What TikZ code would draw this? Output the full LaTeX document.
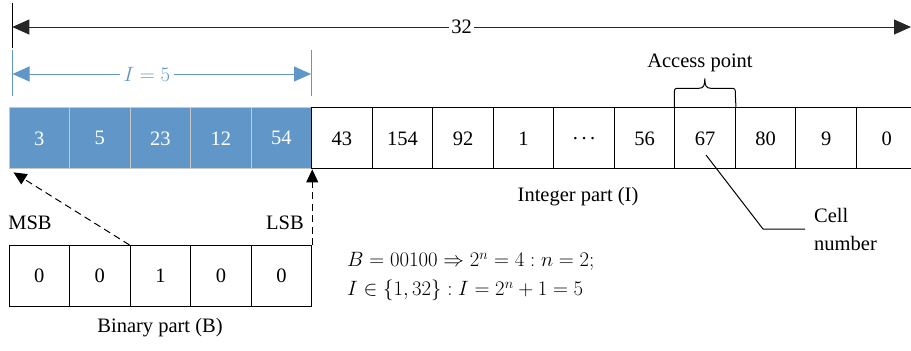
\documentclass[tikz,border=0pt]{standalone}
\usepackage{fontspec}
\setmainfont{Liberation Serif}
\usetikzlibrary{arrows.meta}
\definecolor{cellblue}{RGB}{96,151,200}
\definecolor{cellline}{RGB}{200,200,200}
\newcommand{\lowdots}{.\hspace{3.5pt}.\hspace{3.5pt}.}
\begin{document}
\begin{tikzpicture}[x=1pt,y=-1pt,
  font=\fontsize{20.5}{26}\selectfont,
  cell/.style={draw=black, line width=1.1pt, minimum width=60.53pt,
    minimum height=61pt, inner sep=0pt, anchor=north west},
  bluecell/.style={cell, fill=cellblue, draw=cellline, text=white},
  dimline/.style={line width=1pt,
    {Triangle[length=17pt,width=15pt]}-{Triangle[length=17pt,width=15pt]}},
  ptr/.style={line width=1pt, dash pattern=on 7pt off 4.5pt,
    -{Triangle[length=13pt,width=12pt]}},
  thin/.style={line width=1pt}]
\useasboundingbox (0,0) rectangle (911,351);

% data row: binary-derived offset (blue) followed by integer part
\foreach \v [count=\i] in {3,5,23,12,54}
  \node[bluecell] (c\i) at ({8.5+(\i-1)*60.53},107.3) {\v};
\foreach \v [count=\i from 6] in {43,154,92,1,{\lowdots},56,67,80,9,0}
  \node[cell] (c\i) at ({8.5+(\i-1)*60.53},107.3) {\v};

% binary part
\foreach \v [count=\i] in {0,0,1,0,0}
  \node[cell] (b\i) at ({8.5+(\i-1)*60.53},245) {\v};

% overall length
\coordinate (t0) at (12.3,27);
\coordinate (t1) at (911,27);
\coordinate (tk0) at (12.3,3);
\coordinate (tk1) at (12.3,48);
\draw[thin] (tk0) -- (tk1);
\draw[dimline, black!85] (t0) -- node[fill=white, inner xsep=2pt, text=black] (n32) {32} (t1);

% offset I
\begin{scope}[cellblue]
\coordinate (ia0) at (12.5,50);
\coordinate (ib0) at (12.5,96);
\coordinate (ia1) at (311,50);
\coordinate (ib1) at (311,96);
\coordinate (i0) at (12.5,74);
\coordinate (i1) at (311,74);
\draw[thin] (ia0) -- (ib0);
\draw[thin] (ia1) -- (ib1);
\draw[dimline] (i0) -- node[pos=0.45, fill=white, inner xsep=4pt] (nI) {$I = 5$} (i1);
\end{scope}

% pointers from the binary part
\coordinate (msbtip) at ([xshift=5pt,yshift=-3pt]c1.south west);
\draw[ptr] (b3.north west) -- (msbtip);
\draw[ptr] (b5.north east) -- (c5.south east);
\node (msb) at (30,223) {MSB};
\node (lsb) at (285,223) {LSB};

% access point brace
\draw[thin] (c12.north west) -- ++(0,-13) .. controls ++(0,-6) .. ++(5.5,-6)
  -- ++(19,0) .. controls ++(5,0) and ++(0,7) .. ++(6,-10)
  .. controls ++(0,7) and ++(-5,0) .. ++(6,10) -- ++(19,0)
  .. controls ++(5.5,0) .. ++(5.5,6) -- (c12.north east);
\node (ap) at (700,63) {Access point};

% cell number callout
\coordinate (cn0) at (706,155);
\coordinate (cn1) at (763,229);
\node[align=left, anchor=west, inner sep=0pt,
  font=\fontsize{20.5}{28}\selectfont] (cn) at (814,229) {Cell\\number};
\draw[thin] (cn0) -- (cn1) -- ([xshift=-9pt]cn.west);

% captions
\node (ip) at (578,197) {Integer part (I)};
\node (bp) at (160,328) {Binary part (B)};
\node[align=left, anchor=west, inner sep=0pt,
  font=\fontsize{19.5}{29}\selectfont] (eq) at (347,277)
  {$B = 00100 \Rightarrow 2^n = 4 : n = 2;$\\
   $I \in \{1, 32\} : I = 2^n + 1 = 5$};
\end{tikzpicture}
\end{document}
